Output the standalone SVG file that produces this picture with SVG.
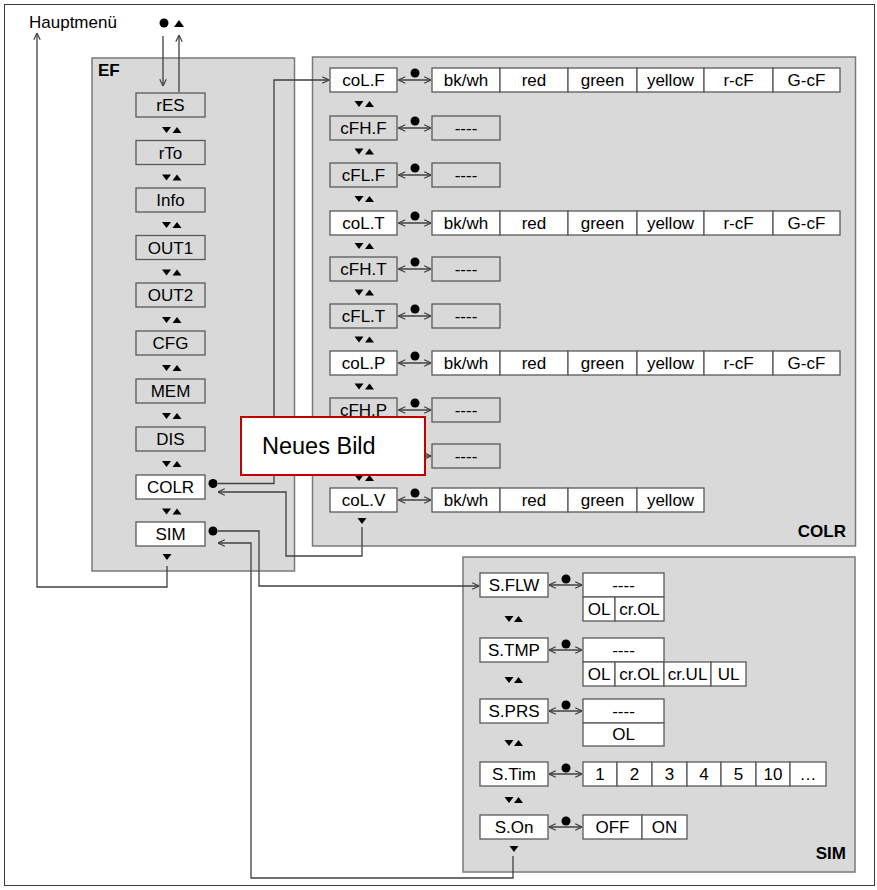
<svg xmlns="http://www.w3.org/2000/svg" width="877" height="890" viewBox="0 0 877 890">
<style>
.bg{fill:#fff;stroke:#3a3a3a;stroke-width:1}
.panel{fill:#d9d9d9;stroke:#7a7a7a;stroke-width:1.5}
.gb{fill:#d9d9d9;stroke:#595959;stroke-width:1.3}
.wb{fill:#fff;stroke:#595959;stroke-width:1.3}
.t{font-family:"Liberation Sans",Arial,sans-serif;font-size:17px;text-anchor:middle;fill:#000}
.tl{font-family:"Liberation Sans",Arial,sans-serif;font-size:17px;fill:#000}
.ttl{font-family:"Liberation Sans",Arial,sans-serif;font-size:17px;font-weight:bold;fill:#000}
.conn{fill:none;stroke:#404040;stroke-width:1.3}
.sym{fill:#000}
.nb{fill:#fff;stroke:#c00000;stroke-width:2}
</style>
<defs>
<marker id="arr" viewBox="0 0 10 10" refX="9.5" refY="5" markerWidth="8" markerHeight="8" markerUnits="userSpaceOnUse" orient="auto-start-reverse">
<path d="M1,1 L9.5,5 L1,9" fill="none" stroke="#404040" stroke-width="1.5"/>
</marker>
<path id="dn" class="sym" d="M-4.5,-3 L4.5,-3 L0,3 Z"/>
<path id="up" class="sym" d="M-4.5,3 L4.5,3 L0,-3 Z"/>
<circle id="dot" class="sym" r="4.5"/>
</defs>

<rect class="bg" x="4.5" y="4.5" width="870" height="881"/>

<g id="panel-EF">
<rect class="panel" x="92" y="58" width="202.5" height="513"/>
<text class="ttl" x="98" y="76">EF</text>
</g>
<g id="panel-COLR">
<rect class="panel" x="312.5" y="57" width="543" height="489"/>
<text class="ttl" x="846" y="537" text-anchor="end">COLR</text>
</g>
<g id="panel-SIM">
<rect class="panel" x="463" y="557" width="392" height="315"/>
<text class="ttl" x="846" y="859" text-anchor="end">SIM</text>
</g>

<g id="hauptmenu">
<text class="tl" x="29" y="28">Hauptmenü</text>
</g>
<g id="top-symbols">
<use href="#dot" x="164" y="23"/>
<path class="sym" d="M174,27 L184,27 L179,20 Z"/>
</g>

<g id="ef-rES"><rect class="gb" x="136" y="93" width="69" height="24"/><text class="t" x="170.5" y="111">rES</text></g>
<g id="ef-rTo"><rect class="gb" x="136" y="140.5" width="69" height="24"/><text class="t" x="170.5" y="158.5">rTo</text></g>
<g id="ef-Info"><rect class="gb" x="136" y="188" width="69" height="24"/><text class="t" x="170.5" y="206">Info</text></g>
<g id="ef-OUT1"><rect class="gb" x="136" y="235.5" width="69" height="24"/><text class="t" x="170.5" y="253.5">OUT1</text></g>
<g id="ef-OUT2"><rect class="gb" x="136" y="283" width="69" height="24"/><text class="t" x="170.5" y="301">OUT2</text></g>
<g id="ef-CFG"><rect class="gb" x="136" y="331" width="69" height="24"/><text class="t" x="170.5" y="349">CFG</text></g>
<g id="ef-MEM"><rect class="gb" x="136" y="379" width="69" height="24"/><text class="t" x="170.5" y="397">MEM</text></g>
<g id="ef-DIS"><rect class="gb" x="136" y="427" width="69" height="24"/><text class="t" x="170.5" y="445">DIS</text></g>
<g id="ef-COLR"><rect class="wb" x="136" y="475" width="69" height="24"/><text class="t" x="170.5" y="493">COLR</text></g>
<g id="ef-SIM"><rect class="wb" x="136" y="522" width="69" height="24"/><text class="t" x="170.5" y="540">SIM</text></g>

<g id="ef-nav">
<use href="#dn" x="166.5" y="130"/><use href="#up" x="177" y="130"/>
<use href="#dn" x="166.5" y="177.5"/><use href="#up" x="177" y="177.5"/>
<use href="#dn" x="166.5" y="225"/><use href="#up" x="177" y="225"/>
<use href="#dn" x="166.5" y="272.5"/><use href="#up" x="177" y="272.5"/>
<use href="#dn" x="166.5" y="320"/><use href="#up" x="177" y="320"/>
<use href="#dn" x="166.5" y="368"/><use href="#up" x="177" y="368"/>
<use href="#dn" x="166.5" y="416"/><use href="#up" x="177" y="416"/>
<use href="#dn" x="166.5" y="464"/><use href="#up" x="177" y="464"/>
<use href="#dn" x="166.5" y="511.5"/><use href="#up" x="177" y="511.5"/>
<use href="#dn" x="167" y="557"/>
<use href="#dot" x="213" y="483.5"/>
<use href="#dot" x="213" y="531"/>
</g>

<g id="colr-coLF">
<rect class="wb" x="330" y="68" width="67" height="24"/><text class="t" x="363.5" y="86">coL.F</text>
<rect class="wb" x="432" y="68" width="68" height="24"/><text class="t" x="466" y="86">bk/wh</text>
<rect class="wb" x="500" y="68" width="68" height="24"/><text class="t" x="534" y="86">red</text>
<rect class="wb" x="568" y="68" width="69" height="24"/><text class="t" x="602.5" y="86">green</text>
<rect class="wb" x="637" y="68" width="67" height="24"/><text class="t" x="670.5" y="86">yellow</text>
<rect class="wb" x="704" y="68" width="69" height="24"/><text class="t" x="738.5" y="86">r-cF</text>
<rect class="wb" x="773" y="68" width="67" height="24"/><text class="t" x="806.5" y="86">G-cF</text>
</g>
<g id="colr-cFHF">
<rect class="gb" x="330" y="116" width="67" height="24"/><text class="t" x="363.5" y="134">cFH.F</text>
<rect class="gb" x="432" y="116" width="68" height="24"/><text class="t" x="466" y="134">----</text>
</g>
<g id="colr-cFLF">
<rect class="gb" x="330" y="163" width="67" height="24"/><text class="t" x="363.5" y="181">cFL.F</text>
<rect class="gb" x="432" y="163" width="68" height="24"/><text class="t" x="466" y="181">----</text>
</g>
<g id="colr-coLT">
<rect class="wb" x="330" y="211" width="67" height="24"/><text class="t" x="363.5" y="229">coL.T</text>
<rect class="wb" x="432" y="211" width="68" height="24"/><text class="t" x="466" y="229">bk/wh</text>
<rect class="wb" x="500" y="211" width="68" height="24"/><text class="t" x="534" y="229">red</text>
<rect class="wb" x="568" y="211" width="69" height="24"/><text class="t" x="602.5" y="229">green</text>
<rect class="wb" x="637" y="211" width="67" height="24"/><text class="t" x="670.5" y="229">yellow</text>
<rect class="wb" x="704" y="211" width="69" height="24"/><text class="t" x="738.5" y="229">r-cF</text>
<rect class="wb" x="773" y="211" width="67" height="24"/><text class="t" x="806.5" y="229">G-cF</text>
</g>
<g id="colr-cFHT">
<rect class="gb" x="330" y="257" width="67" height="24"/><text class="t" x="363.5" y="275">cFH.T</text>
<rect class="gb" x="432" y="257" width="68" height="24"/><text class="t" x="466" y="275">----</text>
</g>
<g id="colr-cFLT">
<rect class="gb" x="330" y="304" width="67" height="24"/><text class="t" x="363.5" y="322">cFL.T</text>
<rect class="gb" x="432" y="304" width="68" height="24"/><text class="t" x="466" y="322">----</text>
</g>
<g id="colr-coLP">
<rect class="wb" x="330" y="351" width="67" height="24"/><text class="t" x="363.5" y="369">coL.P</text>
<rect class="wb" x="432" y="351" width="68" height="24"/><text class="t" x="466" y="369">bk/wh</text>
<rect class="wb" x="500" y="351" width="68" height="24"/><text class="t" x="534" y="369">red</text>
<rect class="wb" x="568" y="351" width="69" height="24"/><text class="t" x="602.5" y="369">green</text>
<rect class="wb" x="637" y="351" width="67" height="24"/><text class="t" x="670.5" y="369">yellow</text>
<rect class="wb" x="704" y="351" width="69" height="24"/><text class="t" x="738.5" y="369">r-cF</text>
<rect class="wb" x="773" y="351" width="67" height="24"/><text class="t" x="806.5" y="369">G-cF</text>
</g>
<g id="colr-cFHP">
<rect class="gb" x="330" y="398" width="67" height="24"/><text class="t" x="363.5" y="416">cFH.P</text>
<rect class="gb" x="432" y="398" width="68" height="24"/><text class="t" x="466" y="416">----</text>
</g>
<g id="colr-cFLP">
<rect class="gb" x="330" y="444" width="67" height="24"/>
<rect class="gb" x="432" y="444" width="68" height="24"/><text class="t" x="466" y="462">----</text>
</g>
<g id="colr-coLV">
<rect class="wb" x="330" y="488" width="67" height="24"/><text class="t" x="363.5" y="506">coL.V</text>
<rect class="wb" x="432" y="488" width="68" height="24"/><text class="t" x="466" y="506">bk/wh</text>
<rect class="wb" x="500" y="488" width="68" height="24"/><text class="t" x="534" y="506">red</text>
<rect class="wb" x="568" y="488" width="69" height="24"/><text class="t" x="602.5" y="506">green</text>
<rect class="wb" x="637" y="488" width="67" height="24"/><text class="t" x="670.5" y="506">yellow</text>
</g>

<g id="colr-nav">
<use href="#dn" x="359" y="104"/><use href="#up" x="369.5" y="104"/>
<use href="#dn" x="359" y="151.5"/><use href="#up" x="369.5" y="151.5"/>
<use href="#dn" x="359" y="199"/><use href="#up" x="369.5" y="199"/>
<use href="#dn" x="359" y="246"/><use href="#up" x="369.5" y="246"/>
<use href="#dn" x="359" y="292.5"/><use href="#up" x="369.5" y="292.5"/>
<use href="#dn" x="359" y="339.5"/><use href="#up" x="369.5" y="339.5"/>
<use href="#dn" x="359" y="386.5"/><use href="#up" x="369.5" y="386.5"/>
<use href="#dn" x="359" y="433"/><use href="#up" x="369.5" y="433"/>
<use href="#dn" x="359" y="478"/><use href="#up" x="369.5" y="478"/>
<use href="#dn" x="362" y="521"/>
<use href="#dot" x="415" y="73"/>
<use href="#dot" x="415" y="121"/>
<use href="#dot" x="415" y="168"/>
<use href="#dot" x="415" y="216"/>
<use href="#dot" x="415" y="262"/>
<use href="#dot" x="415" y="309"/>
<use href="#dot" x="415" y="356"/>
<use href="#dot" x="415" y="403"/>
<use href="#dot" x="415" y="449"/>
<use href="#dot" x="415" y="493"/>
</g>

<g id="sim-SFLW">
<rect class="wb" x="480" y="573" width="68" height="24"/><text class="t" x="514" y="591">S.FLW</text>
<rect class="wb" x="583" y="573" width="81" height="24"/><text class="t" x="623.5" y="591">----</text>
<rect class="wb" x="583" y="597" width="32" height="24"/><text class="t" x="599" y="615">OL</text>
<rect class="wb" x="615" y="597" width="49" height="24"/><text class="t" x="639.5" y="615">cr.OL</text>
</g>
<g id="sim-STMP">
<rect class="wb" x="480" y="638" width="68" height="24"/><text class="t" x="514" y="656">S.TMP</text>
<rect class="wb" x="583" y="638" width="81" height="24"/><text class="t" x="623.5" y="656">----</text>
<rect class="wb" x="583" y="662" width="32" height="24"/><text class="t" x="599" y="680">OL</text>
<rect class="wb" x="615" y="662" width="49" height="24"/><text class="t" x="639.5" y="680">cr.OL</text>
<rect class="wb" x="664" y="662" width="47" height="24"/><text class="t" x="687.5" y="680">cr.UL</text>
<rect class="wb" x="711" y="662" width="35" height="24"/><text class="t" x="728.5" y="680">UL</text>
</g>
<g id="sim-SPRS">
<rect class="wb" x="480" y="699" width="68" height="24"/><text class="t" x="514" y="717">S.PRS</text>
<rect class="wb" x="583" y="699" width="81" height="24"/><text class="t" x="623.5" y="717">----</text>
<rect class="wb" x="583" y="723" width="81" height="23"/><text class="t" x="623.5" y="740">OL</text>
</g>
<g id="sim-STim">
<rect class="wb" x="480" y="762" width="68" height="24"/><text class="t" x="514" y="780">S.Tim</text>
<rect class="wb" x="583" y="762" width="34" height="24"/><text class="t" x="600" y="780">1</text>
<rect class="wb" x="617" y="762" width="35" height="24"/><text class="t" x="634.5" y="780">2</text>
<rect class="wb" x="652" y="762" width="35" height="24"/><text class="t" x="669.5" y="780">3</text>
<rect class="wb" x="687" y="762" width="34" height="24"/><text class="t" x="704" y="780">4</text>
<rect class="wb" x="721" y="762" width="35" height="24"/><text class="t" x="738.5" y="780">5</text>
<rect class="wb" x="756" y="762" width="34" height="24"/><text class="t" x="773" y="780">10</text>
<rect class="wb" x="790" y="762" width="36" height="24"/><text class="t" x="808" y="780">…</text>
</g>
<g id="sim-SOn">
<rect class="wb" x="480" y="815" width="68" height="24"/><text class="t" x="514" y="833">S.On</text>
<rect class="wb" x="583" y="815" width="59" height="24"/><text class="t" x="612.5" y="833">OFF</text>
<rect class="wb" x="642" y="815" width="45" height="24"/><text class="t" x="664.5" y="833">ON</text>
</g>

<g id="sim-nav">
<use href="#dn" x="509" y="619"/><use href="#up" x="518.5" y="619"/>
<use href="#dn" x="509" y="680"/><use href="#up" x="518.5" y="680"/>
<use href="#dn" x="509" y="743"/><use href="#up" x="518.5" y="743"/>
<use href="#dn" x="509" y="800"/><use href="#up" x="518.5" y="800"/>
<use href="#dn" x="514" y="849"/>
<use href="#dot" x="566" y="579"/>
<use href="#dot" x="566" y="644"/>
<use href="#dot" x="566" y="705"/>
<use href="#dot" x="566" y="768"/>
<use href="#dot" x="566" y="821"/>
</g>

<g id="connectors">
<path class="conn" d="M163,36 V86" marker-end="url(#arr)"/>
<path class="conn" d="M179,92 V35" marker-end="url(#arr)"/>
<path class="conn" d="M167,566 V587 H37 V33" marker-end="url(#arr)"/>
<path class="conn" d="M218,483.5 H274 V80 H329" marker-end="url(#arr)"/>
<path class="conn" d="M362,527 V556 H286 V492 H218" marker-end="url(#arr)"/>
<path class="conn" d="M218,531 H259 V586 H479" marker-end="url(#arr)"/>
<path class="conn" d="M513,856 V878 H251 V543 H218" marker-end="url(#arr)"/>
<path class="conn" d="M398.5,80 H431" marker-start="url(#arr)" marker-end="url(#arr)"/>
<path class="conn" d="M398.5,128 H431" marker-start="url(#arr)" marker-end="url(#arr)"/>
<path class="conn" d="M398.5,175 H431" marker-start="url(#arr)" marker-end="url(#arr)"/>
<path class="conn" d="M398.5,223 H431" marker-start="url(#arr)" marker-end="url(#arr)"/>
<path class="conn" d="M398.5,269 H431" marker-start="url(#arr)" marker-end="url(#arr)"/>
<path class="conn" d="M398.5,316 H431" marker-start="url(#arr)" marker-end="url(#arr)"/>
<path class="conn" d="M398.5,363 H431" marker-start="url(#arr)" marker-end="url(#arr)"/>
<path class="conn" d="M398.5,410 H431" marker-start="url(#arr)" marker-end="url(#arr)"/>
<path class="conn" d="M398.5,456 H431" marker-start="url(#arr)" marker-end="url(#arr)"/>
<path class="conn" d="M398.5,500 H431" marker-start="url(#arr)" marker-end="url(#arr)"/>
<path class="conn" d="M549,585 H582" marker-start="url(#arr)" marker-end="url(#arr)"/>
<path class="conn" d="M549,650 H582" marker-start="url(#arr)" marker-end="url(#arr)"/>
<path class="conn" d="M549,711 H582" marker-start="url(#arr)" marker-end="url(#arr)"/>
<path class="conn" d="M549,774 H582" marker-start="url(#arr)" marker-end="url(#arr)"/>
<path class="conn" d="M549,827 H582" marker-start="url(#arr)" marker-end="url(#arr)"/>
</g>

<g id="neues-bild">
<rect class="nb" x="241" y="417" width="184" height="58"/>
<text class="tl" x="262" y="454" style="font-size:23.5px">Neues Bild</text>
</g>
</svg>
